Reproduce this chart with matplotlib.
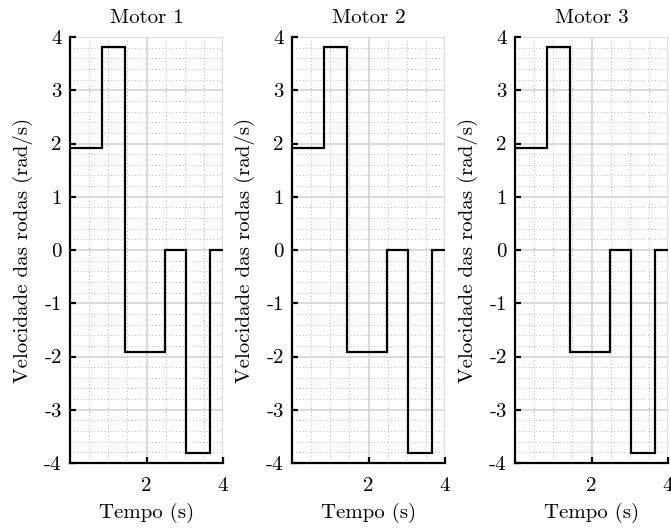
import numpy as np
import matplotlib
matplotlib.use('Agg')
import matplotlib.pyplot as plt
from matplotlib.ticker import MultipleLocator

plt.rcParams['font.family'] = 'serif'
plt.rcParams['font.serif'] = ['cmr10']
plt.rcParams['mathtext.fontset'] = 'cm'
plt.rcParams['axes.unicode_minus'] = False

# step edges (s) and wheel speed (rad/s) for each motor
tempo = [0.0, 0.83, 1.45, 2.48, 3.03, 3.66, 4.0]
motor1 = [1.92, 3.82, -1.92, 0.0, -3.82, 0.0]
motor2 = [1.92, 3.82, -1.92, 0.0, -3.82, 0.0]
motor3 = [1.92, 3.82, -1.92, 0.0, -3.82, 0.0]
titles = ['Motor 1', 'Motor 2', 'Motor 3']
yticks = [-4, -3, -2, -1, 0, 1, 2, 3, 4]
xticks = [2, 4]

fig = plt.figure(figsize=(6.71, 5.29), dpi=100)
lefts = [70, 292, 515]  # px

for left, title, vals in zip(lefts, titles, [motor1, motor2, motor3]):
    ax = fig.add_axes([left / 671, 66 / 529, 153 / 671, 426 / 529])
    ax.stairs(vals, tempo, color='black', lw=1.6, baseline=None, zorder=3)
    ax.set_xlim(0, 4)
    ax.set_ylim(-4, 4)
    ax.set_xticks(xticks)
    ax.set_xticklabels([str(t) for t in xticks])
    ax.set_yticks(yticks)
    ax.set_yticklabels([str(t) for t in yticks])
    ax.xaxis.set_minor_locator(MultipleLocator(0.5))
    ax.yaxis.set_minor_locator(MultipleLocator(0.2))
    ax.grid(True, which='major', color='#d4d4d4', lw=1.2, zorder=0)
    ax.grid(True, which='minor', color='#b8b8b8', lw=0.7, ls=(0, (1, 2.5)), zorder=0)
    ax.set_axisbelow(True)
    for s in ['top', 'right']:
        ax.spines[s].set_visible(False)
    for s in ['left', 'bottom']:
        ax.spines[s].set_linewidth(1.6)
    ax.tick_params(which='major', direction='in', length=4, width=1.6, labelsize=15, pad=6)
    ax.tick_params(axis='x', which='major', pad=10)
    ax.tick_params(which='minor', length=0)
    ax.set_title(title, fontsize=15, pad=10)
    ax.set_xlabel('Tempo (s)', fontsize=15, labelpad=6)
    ax.set_ylabel('Velocidade das rodas (rad/s)', fontsize=15, labelpad=8)

fig.savefig('out.png', dpi=100)
